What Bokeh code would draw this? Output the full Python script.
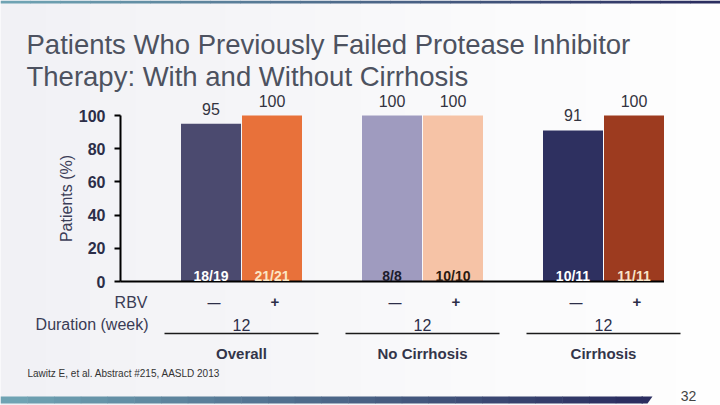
from bokeh.plotting import figure
from bokeh.models import Range1d, FixedTicker, Label, BoxAnnotation, PolyAnnotation
from bokeh.core.properties import value
from bokeh.embed import file_html
from bokeh.resources import INLINE

# ---------------- data ----------------
groups = ["Overall", "No Cirrhosis", "Cirrhosis"]
rbv_signs = ["\u2014", "+"]
pct_no_rbv = [95, 100, 91]
pct_rbv = [100, 100, 100]
n_no_rbv = ["18/19", "8/8", "10/11"]
n_rbv = ["21/21", "10/10", "11/11"]
duration_weeks = ["12", "12", "12"]
y_ticks = [0, 20, 40, 60, 80, 100]

# ---------------- styles ----------------
colors_no_rbv = ["#4b4a6f", "#9f9bbf", "#2e3060"]
colors_rbv = ["#e8713a", "#f6c3a6", "#9d3b1f"]
frac_colors_no = ["#ffffff", "#1c1c2c", "#ffffff"]
frac_colors_rbv = ["#fbe6c4", "#2a1a10", "#f8e4c8"]
FONT = "Liberation Sans"
DARK = "#2c2e48"
BG = "#f8f8fa"

W, H = 720, 405
PX_X = 181.0      # pixels per group
PX_Y = 1.66       # pixels per percent
AXIS_X = 120      # page x of the value axis
ZERO_Y = 281      # page y of the baseline
FIRST_C = 241     # page x of the first group centre
x_start = -FIRST_C / PX_X
x_end = x_start + W / PX_X
y_end = ZERO_Y / PX_Y
y_start = y_end - H / PX_Y
axis_x = x_start + AXIS_X / PX_X

p = figure(width=W, height=H, output_backend="svg", toolbar_location=None, tools="",
           x_range=Range1d(x_start, x_end), y_range=Range1d(y_start, y_end),
           x_axis_location=None, min_border=0)
p.background_fill_color = BG
p.border_fill_color = BG
p.outline_line_color = None
p.grid.visible = False


def lerp(c1, c2, t):
    a = [int(c1[i:i + 2], 16) for i in (1, 3, 5)]
    b = [int(c2[i:i + 2], 16) for i in (1, 3, 5)]
    return "#%02x%02x%02x" % tuple(round(a[k] + (b[k] - a[k]) * t) for k in range(3))


def box(l, r, t, b, color, level="annotation"):
    p.add_layout(BoxAnnotation(left=l, right=r, top=H - t, bottom=H - b,
                               left_units="screen", right_units="screen",
                               bottom_units="screen", top_units="screen",
                               fill_color=color, fill_alpha=1.0, line_color=None, level=level))

# subtle background gradient (left grey-blue to white)
NB = 16
for k in range(NB):
    box(W * k / NB, W * (k + 1) / NB + 0.5, 0, H, lerp("#f1f1f5", "#fefefe", k / (NB - 1)), level="underlay")

# y axis (fixed at the chart's left edge, inside the canvas)
ax = p.yaxis[0]
ax.fixed_location = axis_x
ax.bounds = (0, 100)
ax.ticker = FixedTicker(ticks=y_ticks)
ax.axis_line_width = 2
ax.axis_line_color = "black"
ax.major_tick_line_width = 2
ax.major_tick_line_color = "black"
ax.major_tick_out = 6
ax.major_tick_in = 0
ax.minor_tick_line_color = None
ax.major_label_text_font = FONT
ax.major_label_text_font_size = "16px"
ax.major_label_text_font_style = "bold"
ax.major_label_text_color = DARK
ax.major_label_standoff = 9
ax.axis_label = "Patients (%)"
ax.axis_label_text_font = FONT
ax.axis_label_text_font_size = "16px"
ax.axis_label_text_font_style = "normal"
ax.axis_label_text_color = "#3b3d57"
ax.axis_label_standoff = 1

idx = list(range(len(groups)))
dx = 30.5 / PX_X
bw = 60.0 / PX_X
xm = [i - dx for i in idx]
xp = [i + dx for i in idx]

p.vbar(x=xm, top=pct_no_rbv, bottom=0, width=bw, fill_color=colors_no_rbv, line_color=None)
p.vbar(x=xp, top=pct_rbv, bottom=0, width=bw, fill_color=colors_rbv, line_color=None)

# baseline (category axis line)
p.segment(x0=[axis_x], x1=[idx[-1] + dx + bw / 2], y0=[0], y1=[0], line_width=2, line_color="black")

tf = value(FONT)
# value labels
p.text(x=xm, y=pct_no_rbv, text=[str(v) for v in pct_no_rbv], text_align="center",
       text_baseline="bottom", y_offset=-9, text_font=tf, text_font_size="16px", text_color="#333340")
p.text(x=xp, y=pct_rbv, text=[str(v) for v in pct_rbv], text_align="center",
       text_baseline="bottom", y_offset=-9, text_font=tf, text_font_size="16px", text_color="#333340")
# n/N labels inside bars
p.text(x=xm, y=[0] * len(idx), text=n_no_rbv, text_align="center", text_baseline="alphabetic",
       y_offset=-6, text_font=tf, text_font_size="14px", text_font_style="bold", text_color=frac_colors_no)
p.text(x=xp, y=[0] * len(idx), text=n_rbv, text_align="center", text_baseline="alphabetic",
       y_offset=-6, text_font=tf, text_font_size="14px", text_font_style="bold", text_color=frac_colors_rbv)
# RBV signs
p.text(x=xm, y=[0] * len(idx), text=[rbv_signs[0]] * len(idx), text_align="center", text_baseline="middle",
       x_offset=3, y_offset=21, text_font=tf, text_font_size="13px", text_font_style="bold", text_color=DARK)
p.text(x=xp, y=[0] * len(idx), text=[rbv_signs[1]] * len(idx), text_align="center", text_baseline="middle",
       x_offset=3, y_offset=20, text_font=tf, text_font_size="15px", text_font_style="bold", text_color=DARK)
# duration
p.text(x=idx, y=[0] * len(idx), text=duration_weeks, text_align="center", text_baseline="middle",
       y_offset=43, text_font=tf, text_font_size="16px", text_color=DARK)
# underlines
uy = -52.0 / PX_Y
half = 77.0 / PX_X
p.segment(x0=[i - half for i in idx], x1=[i + half for i in idx], y0=[uy] * len(idx), y1=[uy] * len(idx),
          line_width=1.3, line_color="#1a1a1a")
# group labels
p.text(x=idx, y=[0] * len(idx), text=groups, text_align="center", text_baseline="middle",
       y_offset=72, text_font=tf, text_font_size="15px", text_font_style="bold", text_color="#33354a")


# ---------------- screen labels ----------------
def lab(px, py, text, size, color, align="left", baseline="middle", style="normal"):
    p.add_layout(Label(x=px, y=H - py, x_units="screen", y_units="screen", text=text,
                       text_align=align, text_baseline=baseline, text_font=FONT,
                       text_font_size=size, text_color=color, text_font_style=style))

lab(26, 44, "Patients Who Previously Failed Protease Inhibitor", "27.5px", "#4d5260", baseline="alphabetic")
lab(26, 76, "Therapy: With and Without Cirrhosis", "27.5px", "#4d5260", baseline="alphabetic")
lab(147, 302, "RBV", "16px", "#3a3c55", align="right")
lab(148, 324, "Duration (week)", "16px", "#3a3c55", align="right")
lab(27, 373, "Lawitz E, et al. Abstract #215, AASLD 2013", "10px", "#333333")
lab(688, 395, "32", "14px", "#444444", align="center")

# decorative gradient strips (top and bottom)
N = 24
for k in range(N):
    box(W * k / N, W * (k + 1) / N + 0.5, 0, 3, lerp("#6fa3b3", "#2b2e60", k / (N - 1)))
for k in range(N):
    box(642 * k / N, 642 * (k + 1) / N + 0.5, 396, 403, lerp("#6fa3b3", "#2b2e60", k / (N - 1)))
p.add_layout(PolyAnnotation(xs=[641, 652, 647, 641], ys=[H - 396, H - 396, H - 403, H - 403],
                            xs_units="screen", ys_units="screen",
                            fill_color="#2b2e60", fill_alpha=1.0, line_color=None))

open("out.html", "w").write(file_html(p, INLINE))
